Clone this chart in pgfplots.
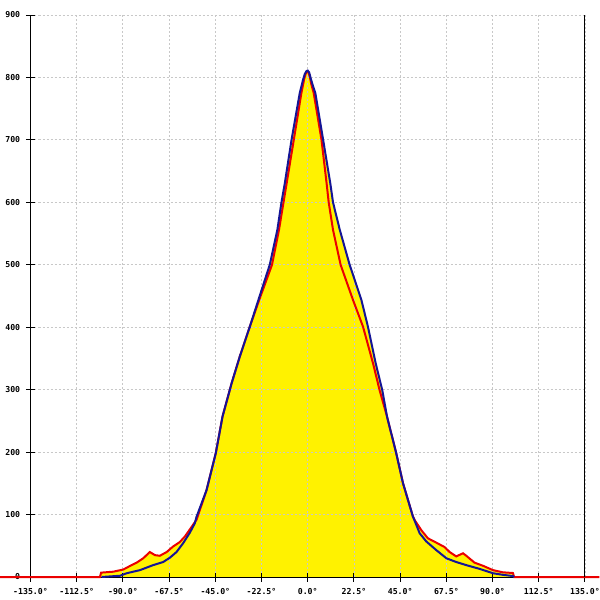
\documentclass[border=0pt]{standalone}
\usepackage{pgfplots}
\pgfplotsset{compat=1.18}
\usepackage{pgfplotstable}
\usepackage{fontspec}
\newfontfamily\tickfont{DejaVu Sans Mono}
\definecolor{curvered}{RGB}{235,0,0}
\definecolor{curveblue}{RGB}{20,20,150}
\definecolor{gridgray}{RGB}{200,200,200}

\pgfplotstableread{
deg   val
-150   0
-101.2 0
-100.6 7
-94.7  8.5
-89.8  12
-85.8  19
-83.3  23
-80.1  30
-76.9  40
-74.4  35
-72.0  34
-68.7  40
-65.5  49
-62.3  56
-59.8  65
-56.6  80
-54.1  92
-49.3  139
-44.8  198
-41.5  257
-37.1  310
-33.1  353
-28.2  401
-23.4  446
-17.4  500
-14.0  556
-11.8  600
-10.3  630
-6.8   700
-3.1   775
-1.7   798
-1.0   806
-0.3   810
0.3    809
1.0    801
1.6    791
2.9    775
6.7    700
9.2    630
10.2   600
12.3   556
16.0   500
22.0   444
26.9   401
31.8   342
35.0   299
38.6   257
43.1   198
46.4   150
51.2   97
52.1   91
55.3   75
58.5   62
62.6   55
66.6   48
69.1   40
72.3   33
75.6   38
77.2   34
81.2   23
85.3   18
90.2   11
95.0   7.5
99.9   6.4
100.5  0
142    0
}\redtable

\pgfplotstableread{
deg   val
-100.4 0
-91.4  2
-88.2  6
-81.7  11
-75.3  19
-70.4  24
-67.1  31
-63.9  40
-60.7  54
-57.4  71
-55.0  86
-54.2  96
-49.3  139
-44.8  198
-41.5  257
-37.1  310
-33.1  353
-28.2  401
-23.8  446
-18.5  500
-14.8  556
-12.8  600
-11.2  630
-7.9   700
-3.9   775
-2.4   795
-1.5   805
-0.7   810
0.0    811
0.7    808
1.5    798
2.3    789
3.7    775
7.5    700
11.0   630
12.3   600
15.6   556
20.4   500
26.1   444
29.3   401
33.1   342
36.3   299
38.6   257
43.1   198
46.4   150
51.2   97
54.5   70
57.7   57
62.6   43
67.5   30
72.3   24
77.2   19
83.7   13
90.2   6
95.0   3.5
99.9   1.5
100.5  0
}\bluetable

\begin{document}
\begin{tikzpicture}
\begin{axis}[
  set layers,
  scale only axis,
  width=277.25pt, height=281pt,
  xmin=-135, xmax=135, ymin=0, ymax=900,
  clip=false,
  axis x line*=bottom, axis y line*=left,
  axis line style={black, line width=0.5pt, -},
  xtick={-135,-112.5,-90,-67.5,-45,-22.5,0,22.5,45,67.5,90,112.5,135},
  ytick={0,100,200,300,400,500,600,700,800,900},
  tick align=center, major tick length=4.5pt,
  tick style={black, line width=0.5pt},
  grid=major,
  major grid style={gridgray, dash pattern=on 1pt off 1pt, line width=0.45pt},
  ticklabel style={font=\tickfont\bfseries\fontsize{4.1}{5}\selectfont},
  yticklabel style={xshift=0.6pt},
  /pgf/number format/assume math mode=true,
  xticklabel={\pgfmathprintnumber[fixed,precision=1,fixed zerofill]{\tick}°},
  yticklabel={\pgfmathprintnumber[fixed,precision=0]{\tick}},
]
\addplot[fill=yellow, draw=none, on layer=axis background] table[x=deg, y=val] {\redtable} \closedcycle;
\addplot[fill=yellow, draw=none, on layer=axis background] table[x=deg, y=val] {\bluetable} \closedcycle;
\addplot[curvered, line width=1pt, mark=none] table[x=deg, y=val] {\redtable};
\addplot[curveblue, line width=1pt, mark=none] table[x=deg, y=val] {\bluetable};
\draw[black, line width=0.5pt] (axis cs:135,0) -- (axis cs:135,900);
\end{axis}
\pgfresetboundingbox
\path (current axis.south west) ++(-15.25pt,-11.5pt) rectangle ++(300pt,300pt);
\end{tikzpicture}
\end{document}
